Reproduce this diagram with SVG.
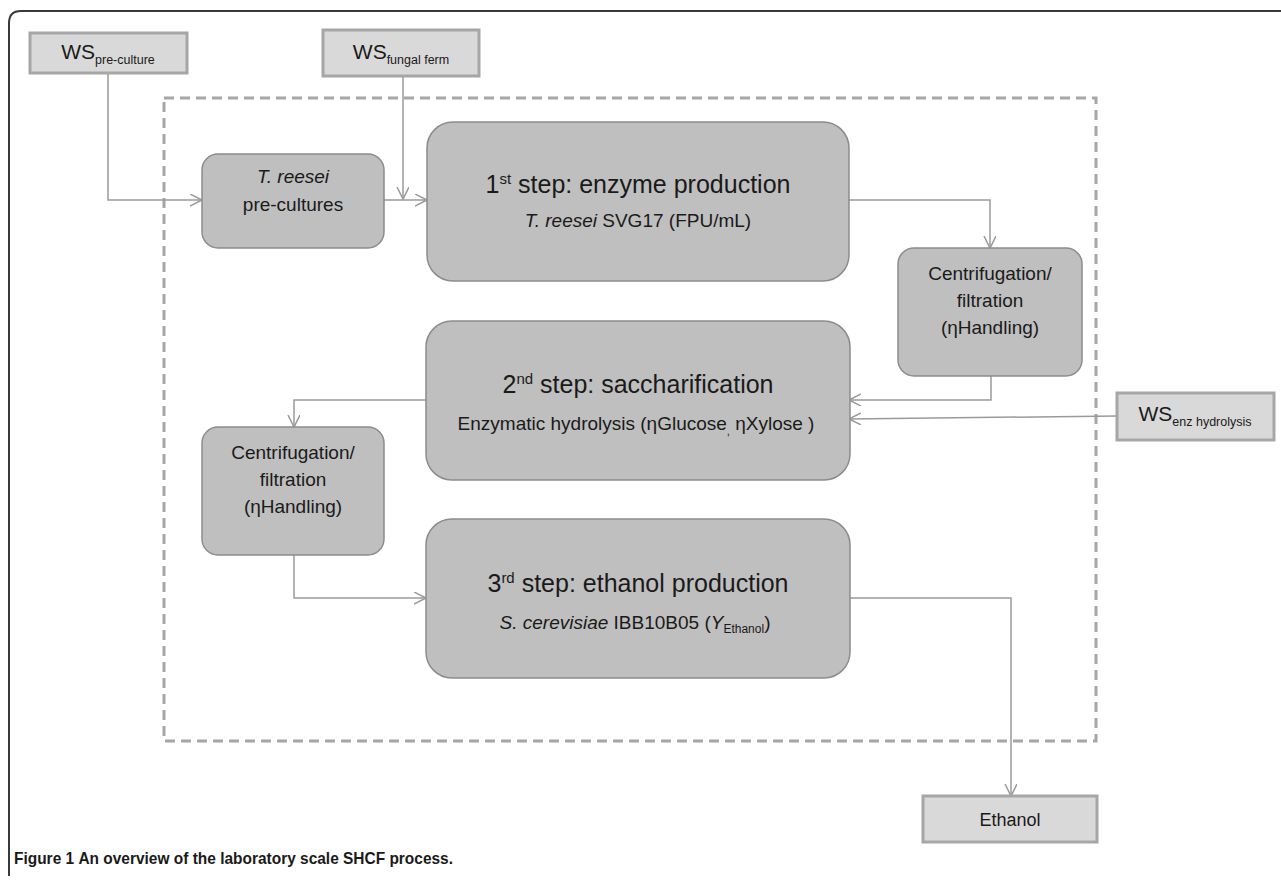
<svg xmlns="http://www.w3.org/2000/svg" width="1281" height="887" viewBox="0 0 1281 887">
<style>
  text { font-family: "Liberation Sans", Arial, sans-serif; fill: #1a1a1a; }
  .ws { fill: #d9d9d9; stroke: #a6a6a6; stroke-width: 3; }
  .step { fill: #bfbfbf; stroke: #8c8c8c; stroke-width: 1.5; }
  .conn { fill: none; stroke: #9a9a9a; stroke-width: 1.5; }
  .wst { font-size: 21px; }
  .sub { font-size: 12.5px; }
  .title { font-size: 25px; }
  .subt { font-size: 19px; }
  .lbl { font-size: 19px; }
</style>
<defs>
  <marker id="arr" markerUnits="userSpaceOnUse" markerWidth="14" markerHeight="14" refX="12" refY="6" orient="auto">
    <path d="M0,0 L12,6 L0,12" fill="none" stroke="#9a9a9a" stroke-width="1.5"/>
  </marker>
</defs>
<rect width="1281" height="887" fill="#ffffff"/>
<path d="M9,876 L9,23 Q9,11 21,11 L1281,11" fill="none" stroke="#3a3a3a" stroke-width="2"/>
<rect x="164" y="98" width="932" height="643" fill="none" stroke="#a6a6a6" stroke-width="3" stroke-dasharray="10,6"/>

<g id="connectors">
  <path class="conn" d="M108,73 L108,200 L202,200" marker-end="url(#arr)"/>
  <path class="conn" d="M403,76 L403,199" marker-end="url(#arr)"/>
  <path class="conn" d="M384,200 L427,200" marker-end="url(#arr)"/>
  <path class="conn" d="M849,200 L990,200 L990,248" marker-end="url(#arr)"/>
  <path class="conn" d="M991,376 L991,400 L849,400" marker-end="url(#arr)"/>
  <path class="conn" d="M1117,416 L849,419" marker-end="url(#arr)"/>
  <path class="conn" d="M426,400 L294,400 L294,427" marker-end="url(#arr)"/>
  <path class="conn" d="M294,555 L294,598 L426,598" marker-end="url(#arr)"/>
  <path class="conn" d="M850,598 L1011,598 L1011,796" marker-end="url(#arr)"/>
</g>

<g id="ws-preculture">
  <rect class="ws" x="30" y="33" width="157" height="40"/>
  <text x="108" y="59" text-anchor="middle"><tspan class="wst">WS</tspan><tspan class="sub" dy="5">pre-culture</tspan></text>
</g>
<g id="ws-fungalferm">
  <rect class="ws" x="323" y="30" width="156" height="46"/>
  <text x="401" y="59" text-anchor="middle"><tspan class="wst">WS</tspan><tspan class="sub" dy="5">fungal ferm</tspan></text>
</g>
<g id="ws-enzhydrolysis">
  <rect class="ws" x="1117" y="393" width="157" height="47"/>
  <text x="1195" y="421" text-anchor="middle"><tspan class="wst">WS</tspan><tspan class="sub" dy="5">enz hydrolysis</tspan></text>
</g>
<g id="ethanol">
  <rect class="ws" x="923" y="796" width="174" height="46"/>
  <text x="1010" y="826" text-anchor="middle" style="font-size:18px">Ethanol</text>
</g>

<g id="precultures">
  <rect class="step" x="202" y="154" width="182" height="94" rx="16"/>
  <text x="293" y="183" text-anchor="middle" class="lbl" font-style="italic">T. reesei</text>
  <text x="293" y="211" text-anchor="middle" class="lbl">pre-cultures</text>
</g>
<g id="step1">
  <rect class="step" x="427" y="122" width="422" height="159" rx="26"/>
  <text x="638" y="193" text-anchor="middle" class="title">1<tspan style="font-size:15px" dy="-9">st</tspan><tspan dy="9"> step: enzyme production</tspan></text>
  <text x="638" y="227" text-anchor="middle" class="subt"><tspan font-style="italic">T. reesei</tspan> SVG17 (FPU/mL)</text>
</g>
<g id="centrifuge1">
  <rect class="step" x="898" y="248" width="184" height="128" rx="16"/>
  <text x="990" y="280" text-anchor="middle" class="lbl">Centrifugation/</text>
  <text x="990" y="307" text-anchor="middle" class="lbl">filtration</text>
  <text x="990" y="334" text-anchor="middle" class="lbl">(ηHandling)</text>
</g>
<g id="step2">
  <rect class="step" x="426" y="321" width="424" height="159" rx="26"/>
  <text x="638" y="393" text-anchor="middle" class="title">2<tspan style="font-size:15px" dy="-9">nd</tspan><tspan dy="9"> step: saccharification</tspan></text>
  <text x="636" y="430" text-anchor="middle" class="subt">Enzymatic hydrolysis (ηGlucose<tspan style="font-size:11px" dy="5">,</tspan><tspan dy="-5"> ηXylose )</tspan></text>
</g>
<g id="centrifuge2">
  <rect class="step" x="202" y="427" width="182" height="128" rx="16"/>
  <text x="293" y="459" text-anchor="middle" class="lbl">Centrifugation/</text>
  <text x="293" y="486" text-anchor="middle" class="lbl">filtration</text>
  <text x="293" y="513" text-anchor="middle" class="lbl">(ηHandling)</text>
</g>
<g id="step3">
  <rect class="step" x="426" y="519" width="424" height="159" rx="26"/>
  <text x="638" y="592" text-anchor="middle" class="title">3<tspan style="font-size:15px" dy="-9">rd</tspan><tspan dy="9"> step: ethanol production</tspan></text>
  <text x="635" y="629" text-anchor="middle" class="subt"><tspan font-style="italic">S. cerevisiae</tspan> IBB10B05 (<tspan font-style="italic">Y</tspan><tspan style="font-size:12px" dy="4">Ethanol</tspan><tspan dy="-4">)</tspan></text>
</g>

<text x="14" y="864" style="font-size:17px;font-weight:bold" textLength="439" lengthAdjust="spacingAndGlyphs">Figure 1 <tspan style="font-weight:600">An overview of the laboratory scale SHCF process.</tspan></text>
</svg>
